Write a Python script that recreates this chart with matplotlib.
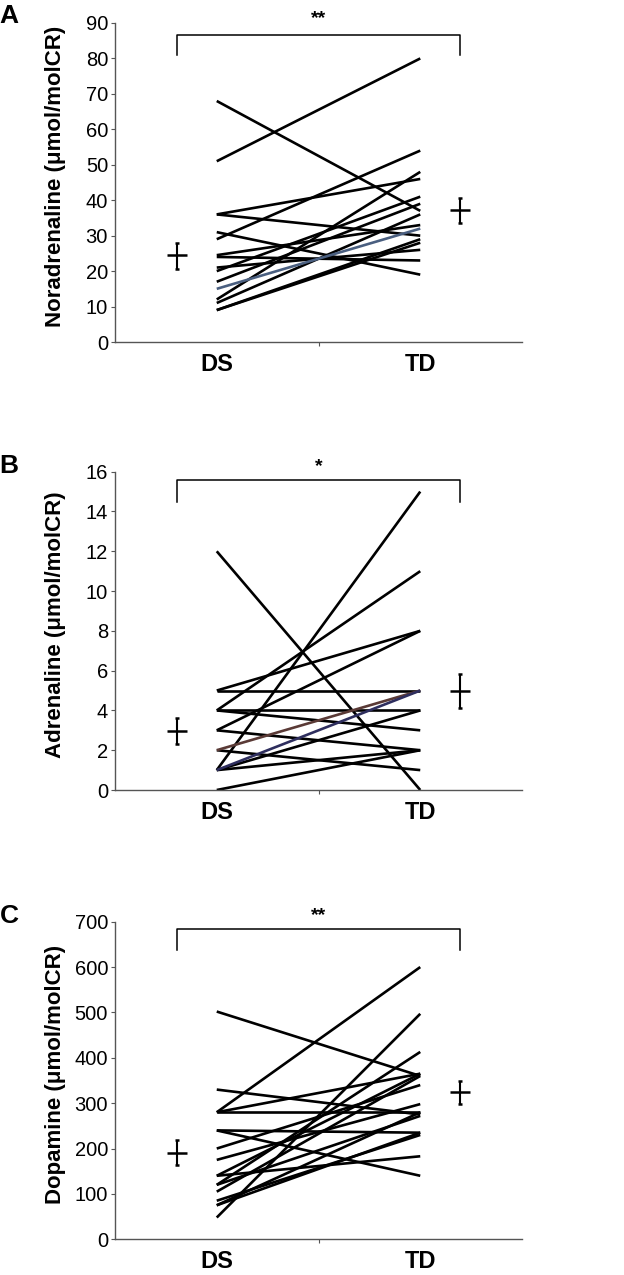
import numpy as np
import matplotlib.pyplot as plt

plt.rcParams["font.family"] = ["Liberation Sans", "DejaVu Sans"]

groups = ["DS", "TD"]

# Noradrenaline, paired values per subject (DS, TD)
nor_ds = [68, 51, 36, 36, 31, 29, 24.5, 24, 21, 20, 17, 15, 12, 11, 9, 9]
nor_td = [37, 80, 46, 30, 19, 54, 33, 23, 26, 41, 39, 32, 48, 36, 29, 28]
nor_mean = [24.5, 37.2]
nor_err_lo = [4.0, 3.7]
nor_err_hi = [3.5, 3.3]

# Adrenaline
adr_ds = [12, 1, 4, 5, 3, 5, 4, 4, 3, 2, 1, 2, 1, 0, 1]
adr_td = [0, 15, 11, 8, 8, 5, 4, 3, 2, 5, 5, 1, 2, 2, 4]
adr_mean = [2.95, 5.0]
adr_err_lo = [0.65, 0.9]
adr_err_hi = [0.65, 0.85]

# Dopamine
dop_ds = [502, 330, 280, 280, 280, 240, 240, 200, 175, 140, 140, 120, 120, 105, 85, 75, 75, 48]
dop_td = [360, 275, 600, 365, 280, 235, 140, 340, 298, 183, 365, 413, 272, 360, 230, 280, 235, 497]
dop_mean = [191, 325]
dop_err_lo = [28, 27]
dop_err_hi = [27, 25]

panels = [
    ("A", "Noradrenaline (μmol/molCR)", nor_ds, nor_td, nor_mean, nor_err_lo, nor_err_hi,
     90, 10, (86.6, 81), 91.2, "**", {11: "#4a5f80"}),
    ("B", "Adrenaline (μmol/molCR)", adr_ds, adr_td, adr_mean, adr_err_lo, adr_err_hi,
     16, 2, (15.6, 14.5), 16.25, "*", {9: "#5a3a36", 10: "#2e2e5e"}),
    ("C", "Dopamine (μmol/molCR)", dop_ds, dop_td, dop_mean, dop_err_lo, dop_err_hi,
     700, 100, (683, 638), 713, "**", {}),
]

W, H = 624, 1275
fig = plt.figure(figsize=(W / 100, H / 100), dpi=100)

# axes boxes in pixels: (bottom_px, top_px)
boxes = [(342, 23), (790, 471.7), (1239.3, 921.7)]
letters_y = [16, 466, 916]
left_px, right_px = 115, 522

x_ds, x_td = 1, 2
x_mean = [0.805, 2.195]

for (letter, ylabel, ds, td, mean, elo, ehi, ymax, ystep, brk, stary, stars, colored), \
        (bot, top), ly in zip(panels, boxes, letters_y):
    ax = fig.add_axes([left_px / W, 1 - bot / H, (right_px - left_px) / W, (bot - top) / H])
    for i, (a, b) in enumerate(zip(ds, td)):
        ax.plot([x_ds, x_td], [a, b], color=colored.get(i, "black"), linewidth=1.9,
                solid_capstyle="butt", zorder=3 if i in colored else 2)

    ax.errorbar(x_mean, mean, yerr=[elo, ehi], fmt="_", color="black", markersize=14,
                mew=1.8, elinewidth=1.5, capsize=1.5, capthick=1.5, zorder=4)

    ax.plot([x_mean[0], x_mean[0], x_mean[1], x_mean[1]], [brk[1], brk[0], brk[0], brk[1]],
            color="black", linewidth=1.1, clip_on=False)
    ax.text(1.5, stary, stars, ha="center", va="center", fontsize=14, fontweight="bold")

    ax.set_xlim(0.5, 2.5)
    ax.set_ylim(0, ymax)
    ax.set_yticks(np.arange(0, ymax + ystep / 2, ystep))
    ax.set_xticks([1.5])
    ax.set_xticklabels([""])
    ax.set_xticks([x_ds, x_td], minor=True)
    ax.set_xticklabels(groups, minor=True, fontsize=17, fontweight="bold")
    ax.tick_params(axis="x", which="minor", length=0, pad=8)
    ax.tick_params(axis="x", which="major", length=3, color="#555555", direction="out")
    ax.tick_params(axis="y", length=3, color="#555555", labelsize=14.5, pad=2)

    for side in ["top", "right"]:
        ax.spines[side].set_visible(False)
    for side in ["left", "bottom"]:
        ax.spines[side].set_color("#555555")
        ax.spines[side].set_linewidth(1.0)

    ax.set_ylabel(ylabel, fontsize=16, fontweight="bold")
    ax.yaxis.set_label_coords(-0.12, 0.52)

    fig.text(9 / W, 1 - ly / H, letter, ha="center", va="center", fontsize=19, fontweight="bold")

fig.savefig("out.png", dpi=100)
